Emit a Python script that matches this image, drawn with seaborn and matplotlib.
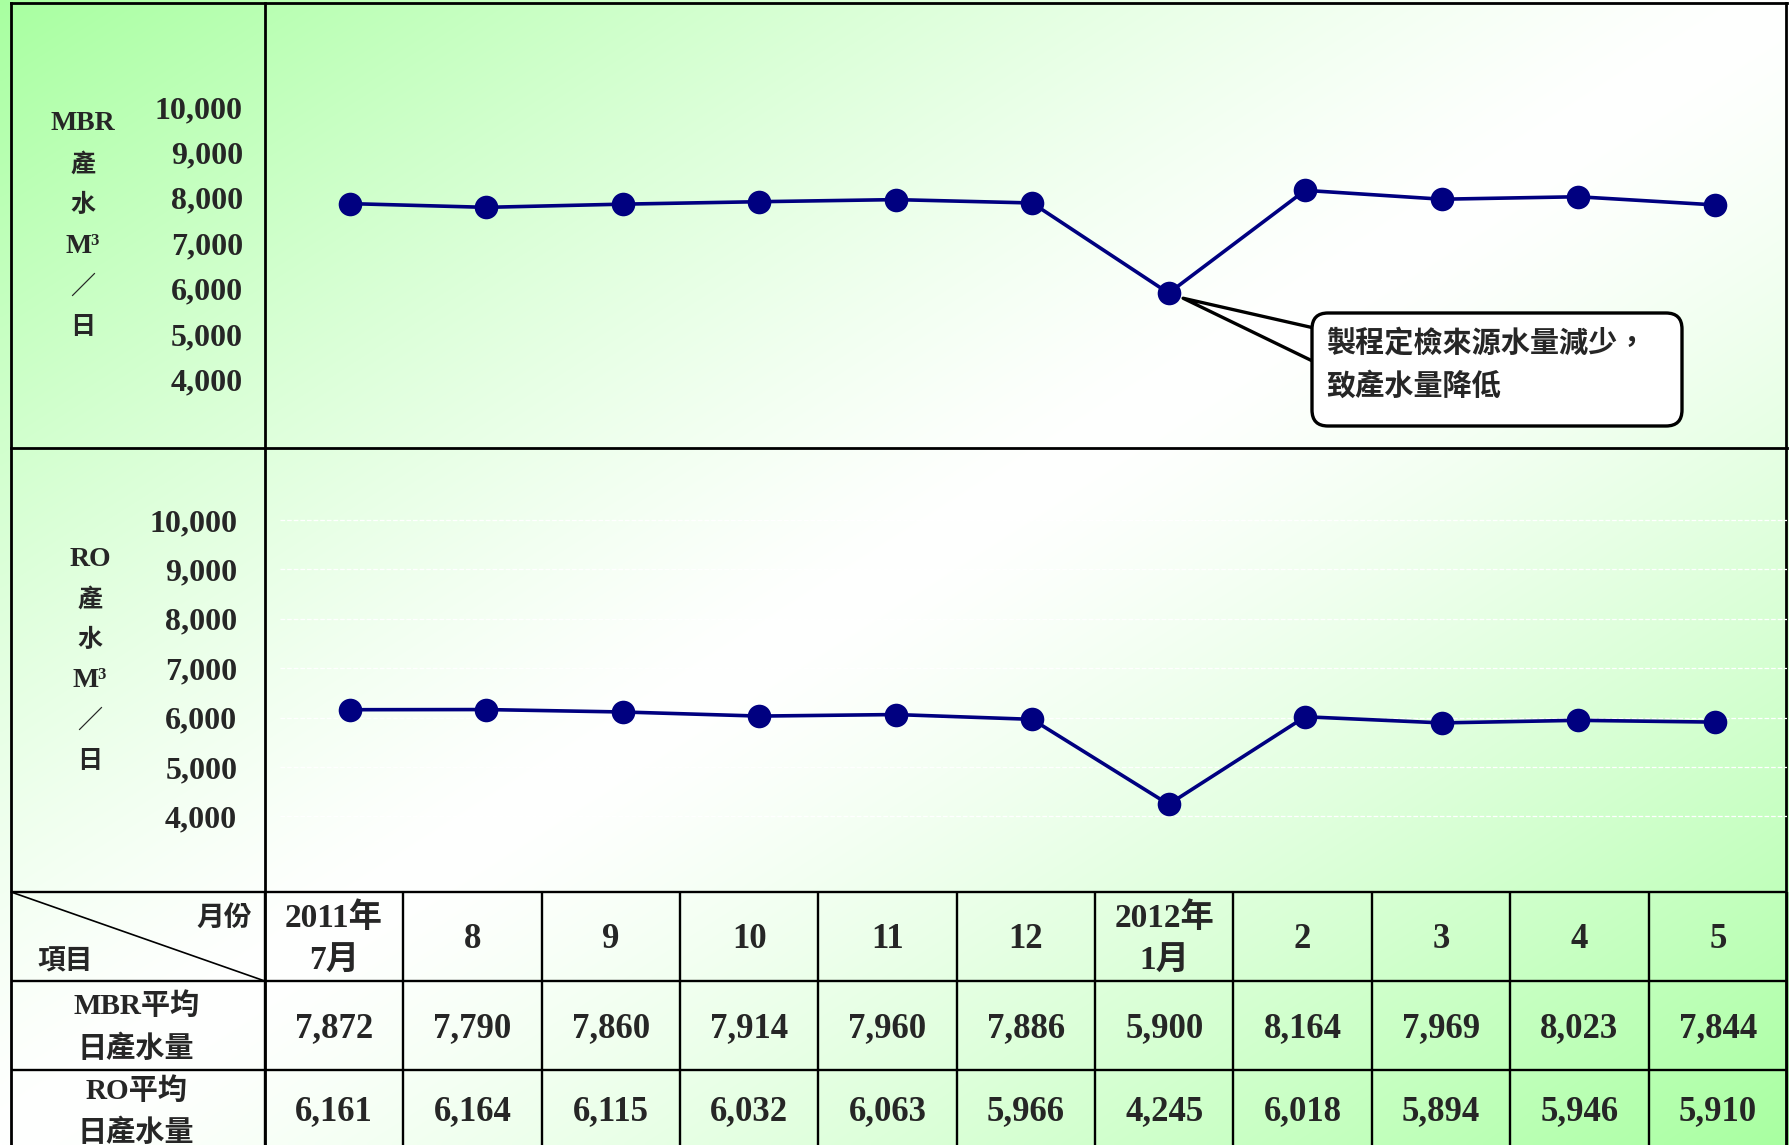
import numpy as np
import matplotlib
matplotlib.use("Agg")
import matplotlib.pyplot as plt
import seaborn as sns
from matplotlib.patches import FancyBboxPatch

# chart data
months = ["2011年\n7月", "8", "9", "10", "11", "12", "2012年\n1月", "2", "3", "4", "5"]
mbr_flow = [7872, 7790, 7860, 7914, 7960, 7886, 5900, 8164, 7969, 8023, 7844]
ro_flow = [6161, 6164, 6115, 6032, 6063, 5966, 4245, 6018, 5894, 5946, 5910]
y_ticks = [4000, 5000, 6000, 7000, 8000, 9000, 10000]
mbr_label = ["MBR", "產", "水", "M³", "／", "日"]
ro_label = ["RO", "產", "水", "M³", "／", "日"]
row_labels = [["MBR平均", "日產水量"], ["RO平均", "日產水量"]]
corner_labels = ["月份", "項目"]
note_lines = ["製程定檢來源水量減少，", "致產水量降低"]

sns.set_style("white")
plt.rcParams["font.family"] = ["Liberation Serif", "Noto Sans CJK TC", "DejaVu Sans"]
plt.rcParams["font.weight"] = "bold"

NAVY = "#000080"
W, H = 1789, 1145
fig = plt.figure(figsize=(W / 100, H / 100), dpi=100)


def px_rect(x0, y0, x1, y1):
    # pixel box (top-left origin) -> figure fraction rect
    return [x0 / W, 1 - y1 / H, (x1 - x0) / W, (y1 - y0) / H]


# background: reflected diagonal green gradient
bg = fig.add_axes([0, 0, 1, 1])
gx, gy = np.meshgrid(np.linspace(0, 1, 400), np.linspace(0, 1, 260))
d = np.abs((gx + gy) / 2 - 0.5) * 2
f = (d ** 1.3)[..., None]
green = np.array([0.66, 1.0, 0.63])
img = (1 - f) * np.ones(3) + f * green
bg.imshow(img, extent=(0, W, H, 0), aspect="auto", interpolation="bilinear", zorder=0)
bg.set_xlim(0, W)
bg.set_ylim(H, 0)
bg.axis("off")

# frame lines of the two chart panels
lw_frame = 2.0
for xs, ys in [([11, 11], [3, H]), ([11, 1787], [3, 3]), ([1786, 1786], [3, H]),
               ([265, 265], [3, H]), ([11, 1787], [448, 448])]:
    bg.plot(xs, ys, color="black", lw=lw_frame, solid_capstyle="projecting", zorder=3)

# chart panels
ax1 = fig.add_axes(px_rect(265, 3, 1787, 448))
ax2 = fig.add_axes(px_rect(265, 448, 1787, 892))
x = list(range(len(months)))

for ax, vals, ylim, pad in [(ax1, mbr_flow, (2490, 12290), 16),
                            (ax2, ro_flow, (2470, 11460), 20)]:
    ax.set_facecolor("none")
    sns.lineplot(x=x, y=vals, ax=ax, color=NAVY, linewidth=2.6, marker="o",
                 markersize=17, markeredgewidth=0, zorder=4)
    ax.set_xlim(-0.62, 10.53)
    ax.set_ylim(*ylim)
    ax.set_xticks([])
    ax.set_yticks(y_ticks)
    ax.set_yticklabels([f"{v:,}" for v in y_ticks])
    ax.tick_params(axis="y", length=0, pad=pad, labelsize=23)
    ax.set_xlabel("")
    ax.set_ylabel("")
    for s in ax.spines.values():
        s.set_visible(False)

# faint white dashed grid in the RO panel
ax2.hlines(y_ticks, -0.51, 10.53, colors="white", linestyles="--", lw=0.9, zorder=1)

# vertical side labels
for k, s in enumerate(mbr_label):
    bg.text(83, 124 + 40.8 * k, s, ha="center", va="center",
            fontsize=20 if k in (0, 3) else 18, zorder=5)
for k, s in enumerate(ro_label):
    bg.text(90, 559 + 40.6 * k, s, ha="center", va="center",
            fontsize=20 if k in (0, 3) else 18, zorder=5)

# callout
ax1.annotate("", xy=(6, mbr_flow[6]), xytext=(1322, 347), textcoords=bg.transData,
             arrowprops=dict(arrowstyle="wedge,tail_width=0.9,shrink_factor=0.5",
                             fc="white", ec="black", lw=2.4, shrinkA=0, shrinkB=11,
                             mutation_scale=27),
             annotation_clip=False)
box = FancyBboxPatch((1312, 313), 370, 113, boxstyle="round,pad=0,rounding_size=16",
                     transform=bg.transData, fc="white", ec="black", lw=2.4, zorder=6)
fig.add_artist(box)
fig.text(1326, 343, note_lines[0], transform=bg.transData, fontsize=21,
         ha="left", va="center", zorder=7)
fig.text(1326, 386, note_lines[1], transform=bg.transData, fontsize=21,
         ha="left", va="center", zorder=7)

# data table
axt = fig.add_axes(px_rect(11, 892, 1787, 1159))
axt.set_xlim(-2.334, 10.5)
axt.set_ylim(3, 0)
axt.axis("off")
axt.vlines(np.arange(-0.5, 10.6, 1), 0, 3, colors="black", lw=1.7, clip_on=False)
axt.hlines([0, 1, 2], -2.334, 10.5, colors="black", lw=1.7, clip_on=False)
axt.plot([-2.334, -0.5], [0, 1], color="black", lw=1.2, clip_on=False)

axt.text(-0.79, 0.30, corner_labels[0], ha="center", va="center", fontsize=20)
axt.text(-1.94, 0.79, corner_labels[1], ha="center", va="center", fontsize=20)

for i, m in enumerate(months):
    parts = m.split("\n")
    if len(parts) == 2:
        axt.text(i, 0.29, parts[0], ha="center", va="center", fontsize=24)
        axt.text(i, 0.78, parts[1], ha="center", va="center", fontsize=24)
    else:
        axt.text(i, 0.53, m, ha="center", va="center", fontsize=25)
    axt.text(i, 1.53, f"{mbr_flow[i]:,}", ha="center", va="center", fontsize=25)
    axt.text(i, 2.47, f"{ro_flow[i]:,}", ha="center", va="center", fontsize=25)

for r, (top, bottom) in enumerate(row_labels):
    axt.text(-1.43, 1.28 + r * 0.96, top, ha="center", va="center", fontsize=21)
    axt.text(-1.43, 1.76 + r * 0.95, bottom, ha="center", va="center", fontsize=21)

fig.savefig("out.png", dpi=100)
